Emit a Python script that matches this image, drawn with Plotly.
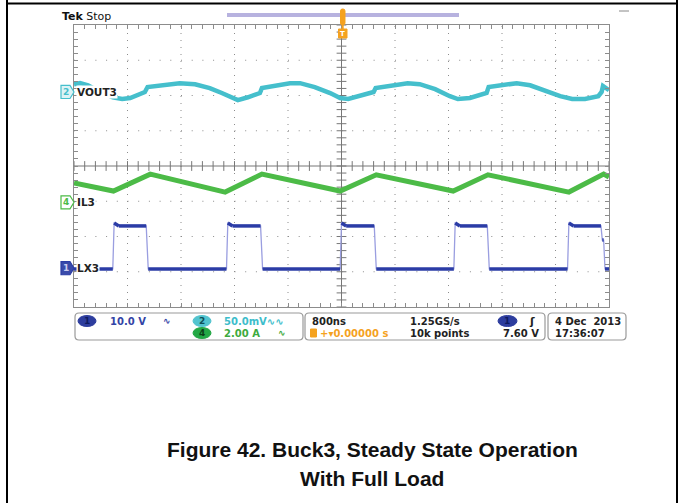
import plotly.graph_objects as go

# ---------------- data (time in microseconds, amplitude in screen divisions) -------------
vout_t = [-4.00, -3.91, -3.79, -3.61, -3.42, -3.28, -3.16, -2.94, -2.90, -2.71, -2.42, -2.19,
          -1.97, -1.79, -1.64, -1.55, -1.40, -1.22, -1.19, -0.99, -0.77, -0.62, -0.40, -0.17,
          -0.02, 0.10, 0.28, 0.48, 0.51, 0.73, 0.99, 1.17, 1.40, 1.62, 1.74, 1.92, 2.17, 2.20,
          2.37, 2.62, 2.82, 3.04, 3.27, 3.45, 3.64, 3.84, 3.89, 3.91, 4.00]
vout_y = [2.32, 2.35, 2.29, 2.10, 1.95, 1.90, 1.93, 2.10, 2.24, 2.29, 2.35, 2.32,
          2.21, 2.07, 1.93, 1.87, 1.95, 2.07, 2.21, 2.27, 2.35, 2.35, 2.24, 2.07,
          1.93, 1.90, 1.98, 2.10, 2.21, 2.27, 2.35, 2.32, 2.18, 1.98, 1.90, 1.93, 2.07, 2.24,
          2.29, 2.35, 2.29, 2.15, 1.98, 1.90, 1.90, 1.98, 2.10, 2.27, 2.15]

il_t = [-4.00, -3.41, -2.86, -1.74, -1.19, -0.02, 0.52, 1.67, 2.19, 3.40, 3.92, 4.00]
il_y = [-0.48, -0.71, -0.23, -0.74, -0.23, -0.71, -0.25, -0.71, -0.25, -0.74, -0.23, -0.31]

lx_t = [-4.00, -3.42, -3.40, -3.33, -2.92, -2.89, -1.72, -1.70, -1.63, -1.21, -1.18,
        -0.02, 0.00, 0.07, 0.49, 0.52, 1.68, 1.70, 1.77, 2.18, 2.21, 3.38, 3.40, 3.47,
        3.88, 3.90, 3.92, 3.94, 4.00]
lx_y = [-2.92, -2.92, -1.62, -1.70, -1.70, -2.92, -2.92, -1.62, -1.70, -1.70, -2.92,
        -2.92, -1.62, -1.70, -1.70, -2.92, -2.92, -1.62, -1.70, -1.70, -2.92, -2.92, -1.62, -1.70,
        -1.70, -2.10, -2.10, -2.92, -2.92]

channel_numbers = ["2", "4", "1"]
channel_names = ["VOUT3", "IL3", "LX3"]
channel_levels = [2.10, -1.03, -2.90]

readout_scales = ["10.0 V", "50.0mV", "2.00 A"]
timebase = "800ns"
trigger_pos = "0.00000 s"
sample_rate = "1.25GS/s"
record_len = "10k points"
trigger_level = "7.60 V"
date_str = "4 Dec  2013"
time_str = "17:36:07"
caption = ["Figure 42. Buck3, Steady State Operation", "With Full Load"]

# ---------------- styling ----------------
W, H = 681, 503
L, R, T, B = 74, 609, 25, 307
C_VOUT = "#45BFCC"
C_IL = "#4CBB47"
C_LX = "#2B3CA6"
C_LX_EDGE = "#9A9EE0"
C_GRID = "#8C8C8C"
C_ORANGE = "#F5A21F"


def PX(x):
    return (x - L) / (R - L)


def PY(y):
    return (B - y) / (B - T)


fig = go.Figure()

# grid lines (dotted) and centre cross
shapes = []
for k in range(1, 10):
    xv = -4 + 0.8 * k
    if k == 5:
        continue
    shapes.append(dict(type="line", xref="x", yref="y", x0=xv, x1=xv, y0=-4, y1=4,
                       line=dict(color=C_GRID, width=1, dash="1px,6px"), layer="below"))
for k in range(1, 8):
    yv = -4 + k
    if k == 4:
        continue
    shapes.append(dict(type="line", xref="x", yref="y", x0=-4, x1=4, y0=yv, y1=yv,
                       line=dict(color=C_GRID, width=1, dash="1px,9.7px"), layer="below"))
shapes.append(dict(type="line", xref="x", yref="y", x0=0, x1=0, y0=-4, y1=4,
                   line=dict(color="#777777", width=1), layer="below"))
shapes.append(dict(type="line", xref="x", yref="y", x0=-4, x1=4, y0=0, y1=0,
                   line=dict(color="#777777", width=1), layer="below"))

# centre-line tick marks
tx = [-4 + 0.16 * i for i in range(51)]
ty = [-4 + 0.2 * i for i in range(41)]
fig.add_trace(go.Scatter(x=tx, y=[0] * len(tx), mode="markers", hoverinfo="skip",
                         marker=dict(symbol="line-ns", size=7, line=dict(color="#777777", width=1))))
fig.add_trace(go.Scatter(x=[0] * len(ty), y=ty, mode="markers", hoverinfo="skip",
                         marker=dict(symbol="line-ew", size=7, line=dict(color="#777777", width=1))))

# traces
fig.add_trace(go.Scatter(x=vout_t, y=vout_y, mode="lines", hoverinfo="skip",
                         line=dict(color=C_VOUT, width=4.5)))
fig.add_trace(go.Scatter(x=il_t, y=il_y, mode="lines", hoverinfo="skip",
                         line=dict(color=C_IL, width=5)))
fig.add_trace(go.Scatter(x=lx_t, y=lx_y, mode="lines", hoverinfo="skip",
                         line=dict(color=C_LX_EDGE, width=1.3)))
seg_x, seg_y = [], []
for i in range(len(lx_t) - 1):
    if abs(lx_y[i + 1] - lx_y[i]) < 0.2:
        seg_x += [lx_t[i], lx_t[i + 1], None]
        seg_y += [lx_y[i], lx_y[i + 1], None]
fig.add_trace(go.Scatter(x=seg_x, y=seg_y, mode="lines", hoverinfo="skip",
                         line=dict(color=C_LX, width=3.5)))

annotations = []


def txt(x, y, s, color="#111111", size=10, anchor="left", bold=True,
        family="DejaVu Sans", bg=None):
    d = dict(x=PX(x), y=PY(y), xref="paper", yref="paper", text=("<b>%s</b>" % s) if bold else s,
             showarrow=False, xanchor=anchor, yanchor="middle",
             font=dict(family=family, size=size, color=color))
    if bg:
        d.update(bgcolor=bg, borderpad=0)
    return d


def prect(x0, y0, x1, y1, color, fill="rgba(0,0,0,0)", width=1):
    return dict(type="rect", xref="paper", yref="paper", x0=PX(x0), x1=PX(x1),
                y0=PY(y1), y1=PY(y0), line=dict(color=color, width=width), fillcolor=fill)


def pline(x0, y0, x1, y1, color, width=1):
    return dict(type="line", xref="paper", yref="paper", x0=PX(x0), x1=PX(x1),
                y0=PY(y0), y1=PY(y1), line=dict(color=color, width=width))


def rrect(x0, y0, x1, y1, r, color, fill="white", width=1):
    a, b, c, d = PX(x0), PX(x1), PY(y0), PY(y1)
    rx = r / (R - L)
    ry = r / (B - T)
    p = ("M %f,%f L %f,%f Q %f,%f %f,%f L %f,%f Q %f,%f %f,%f L %f,%f Q %f,%f %f,%f "
         "L %f,%f Q %f,%f %f,%f Z") % (
        a + rx, c, b - rx, c, b, c, b, c - ry, b, d + ry, b, d, b - rx, d,
        a + rx, d, a, d, a, d + ry, a, c - ry, a, c, a + rx, c)
    return dict(type="path", xref="paper", yref="paper", path=p,
                line=dict(color=color, width=width), fillcolor=fill)


def oval(x0, y0, x1, y1, fill):
    return dict(type="circle", xref="paper", yref="paper", x0=PX(x0), x1=PX(x1),
                y0=PY(y1), y1=PY(y0), line=dict(color=fill, width=1), fillcolor=fill)


# outer frame
shapes.append(pline(7, 0, 7, 503, "black", 2))
shapes.append(pline(677, 0, 677, 503, "black", 2))
shapes.append(pline(7, 3.5, 677, 3.5, "black", 2))
shapes.append(pline(619, 11, 629, 11, "#888888", 1))

# record bar and trigger marker
shapes.append(pline(227, 15, 459, 15, "#B7B2DF", 4))
shapes.append(rrect(340.5, 9, 345, 25, 2, C_ORANGE, C_ORANGE))
shapes.append(pline(342.7, 25, 342.7, 29, C_ORANGE, 2))
shapes.append(prect(338.5, 29, 347, 38, C_ORANGE, C_ORANGE))
annotations.append(txt(342.8, 33.5, "T", "white", 7, "center"))

annotations.append(dict(x=PX(60), y=PY(16), xref="paper", yref="paper", showarrow=False,
                        xanchor="left", yanchor="middle", text="<b>Tek</b> Stop",
                        font=dict(family="DejaVu Sans", size=11, color="#111111")))

# channel markers on the left
ch_colors = [C_VOUT, C_IL, C_LX]
ch_fill = ["#DDF3F5", "#FFFFFF", "#3A4BAA"]
ch_txt = [C_VOUT, C_IL, "#C9CCEF"]
for num, name, lev, col, fl, tc in zip(channel_numbers, channel_names, channel_levels,
                                        ch_colors, ch_fill, ch_txt):
    yc = B - (lev + 4) / 8 * (B - T)
    a0, a1, ap = PX(61), PX(70), PX(74)
    yt, yb, ym = PY(yc - 6.5), PY(yc + 6.5), PY(yc)
    shapes.append(dict(type="path", xref="paper", yref="paper",
                       path="M %f,%f L %f,%f L %f,%f L %f,%f L %f,%f Z" % (a0, yt, a1, yt, ap, ym, a1, yb, a0, yb),
                       line=dict(color=col, width=1.2), fillcolor=fl))
    annotations.append(txt(65.5, yc, num, tc, 9, "center"))
    annotations.append(txt(76, yc, name, "#222222", 10.5, "left", bg="white"))

# readout panel
shapes.append(rrect(75, 313, 303, 340, 4, "#9A9A9A", "white", 1.2))
shapes.append(rrect(305, 313, 545, 340, 4, "#9A9A9A", "white", 1.2))
shapes.append(rrect(548, 313, 626, 340, 4, "#9A9A9A", "white", 1.2))

r1, r2 = 321, 333
shapes.append(oval(78, 315.5, 96, 326.5, "#2D3D9E"))
annotations.append(txt(87, r1, "1", "#0E1A5E", 9, "center"))
annotations.append(txt(108, r1, readout_scales[0], "#3344A6", 10))
annotations.append(txt(161, r1, "∿", "#3344A6", 9))
shapes.append(oval(193, 315.5, 211, 326.5, "#52C4CF"))
annotations.append(txt(202, r1, "2", "#0F4F57", 9, "center"))
annotations.append(txt(222, r1, readout_scales[1] + "∿∿", "#3DBDCB", 10))
shapes.append(oval(193, 327.5, 211, 338.5, "#23A845"))
annotations.append(txt(202, r2, "4", "#0B3F18", 9, "center"))
annotations.append(txt(222, r2, readout_scales[2], "#3DAA3D", 10))
annotations.append(txt(276, r2, "∿", "#3DAA3D", 9))

annotations.append(txt(310, r1, timebase, "#222222", 10))
shapes.append(prect(310.5, 329, 316.5, 337, C_ORANGE, C_ORANGE))
annotations.append(txt(318, r2, "+▾" + trigger_pos, C_ORANGE, 10))
annotations.append(txt(408, r1, sample_rate, "#222222", 10))
annotations.append(txt(408, r2, record_len, "#222222", 10))
shapes.append(oval(498, 315.5, 517, 326.5, "#2D3D9E"))
annotations.append(txt(507.5, r1, "1", "#0E1A5E", 9, "center"))
annotations.append(txt(527, r1, "ʃ", "#222222", 11))
annotations.append(txt(541, r2, trigger_level, "#222222", 10, "right"))
annotations.append(txt(623, r1, date_str, "#222222", 10, "right"))
annotations.append(txt(553, r2, time_str, "#222222", 10))

# caption
annotations.append(txt(372, 449, caption[0], "#111111", 21, "center",
                       family="Liberation Sans Narrow, Arial Narrow, Liberation Sans"))
annotations.append(txt(372, 478, caption[1], "#111111", 21, "center",
                       family="Liberation Sans Narrow, Arial Narrow, Liberation Sans"))

fig.update_layout(
    width=W, height=H, autosize=False,
    margin=dict(l=L, r=W - R, t=T, b=H - B, pad=0),
    paper_bgcolor="white", plot_bgcolor="white",
    showlegend=False, shapes=shapes, annotations=annotations,
    xaxis=dict(range=[-4, 4], showgrid=False, zeroline=False, showticklabels=False,
               ticks="inside", tick0=0, dtick=0.16, ticklen=4, tickcolor=C_GRID,
               showline=True, linecolor=C_GRID, linewidth=1, mirror="ticks", fixedrange=True),
    yaxis=dict(range=[-4, 4], showgrid=False, zeroline=False, showticklabels=False,
               ticks="inside", tick0=0, dtick=0.2, ticklen=4, tickcolor=C_GRID,
               showline=True, linecolor=C_GRID, linewidth=1, mirror="ticks", fixedrange=True),
)

fig.write_html("out.html", config={"displayModeBar": False, "staticPlot": True},
               post_script="document.body.style.margin='0';document.body.style.padding='0';"
                           "document.documentElement.style.overflow='hidden';")
